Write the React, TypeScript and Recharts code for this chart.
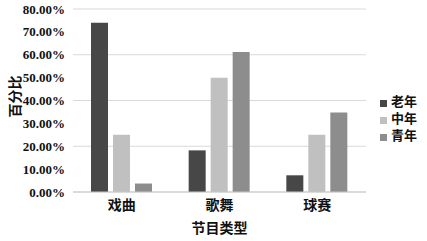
import React from 'react';
import { BarChart, Bar, XAxis, YAxis, CartesianGrid, Legend } from 'recharts';

const categories = ['戏曲', '歌舞', '球赛'];
const laonian = [74, 18.2, 7.3];
const zhongnian = [25, 50, 25];
const qingnian = [3.7, 61.2, 34.7];
const yTicks = [0, 10, 20, 30, 40, 50, 60, 70, 80];
const seriesOrder = ['老年', '中年', '青年'];

const data = categories.map((c, i) => ({
  name: c,
  老年: laonian[i],
  中年: zhongnian[i],
  青年: qingnian[i],
}));

const FONT = '"Liberation Serif", "Noto Sans CJK SC", serif';

const YLabel = (props: any) => {
  const vb = props.viewBox || { x: 0, y: 0, width: 0, height: 0 };
  const cx = vb.x + 15;
  const cy = vb.y + vb.height / 2 - 4;
  return (
    <text
      x={cx}
      y={cy}
      transform={`rotate(-90, ${cx}, ${cy})`}
      textAnchor="middle"
      dominantBaseline="central"
      fill="#111"
      fontSize={14}
      fontWeight={700}
      fontFamily={FONT}
    >
      百分比
    </text>
  );
};

export default function App() {
  return (
    <div style={{ position: 'absolute', left: 0, top: 0, background: '#fff' }}>
      <BarChart
        width={427}
        height={241}
        data={data}
        margin={{ top: 9, right: 6, bottom: 0, left: 0 }}
        barSize={17}
        barGap={5}
        style={{ fontFamily: FONT }}
      >
        <CartesianGrid vertical={false} stroke="#d9d9d9" />
        <XAxis
          dataKey="name"
          height={49}
          axisLine={{ stroke: '#c8c8c8' }}
          tickLine={false}
          tick={{ fill: '#111', fontSize: 14, fontWeight: 700, fontFamily: FONT }}
          label={{
            value: '节目类型',
            position: 'insideBottom',
            offset: 8,
            fill: '#111',
            fontSize: 14,
            fontWeight: 700,
            fontFamily: FONT,
          }}
        />
        <YAxis
          width={73}
          domain={[0, 80]}
          ticks={yTicks}
          axisLine={false}
          tickLine={false}
          tickFormatter={(v: number) => `${v.toFixed(2)}%`}
          tick={{ fill: '#111', fontSize: 13, fontWeight: 700, fontFamily: FONT }}
          label={<YLabel />}
        />
        <Legend
          layout="vertical"
          align="right"
          verticalAlign="middle"
          width={55}
          iconType="square"
          iconSize={7}
          itemSorter={(item: any) => seriesOrder.indexOf(String(item.dataKey ?? item.value))}
          formatter={(value: string) => (
            <span style={{ color: '#111', fontWeight: 700, fontFamily: FONT }}>{value}</span>
          )}
          wrapperStyle={{ fontSize: 13, lineHeight: '17px', left: 380, top: 93, right: 'auto' }}
        />
        <Bar dataKey="老年" fill="#474747" isAnimationActive={false} />
        <Bar dataKey="中年" fill="#c0c0c0" isAnimationActive={false} />
        <Bar dataKey="青年" fill="#8d8d8d" isAnimationActive={false} />
      </BarChart>
    </div>
  );
}
